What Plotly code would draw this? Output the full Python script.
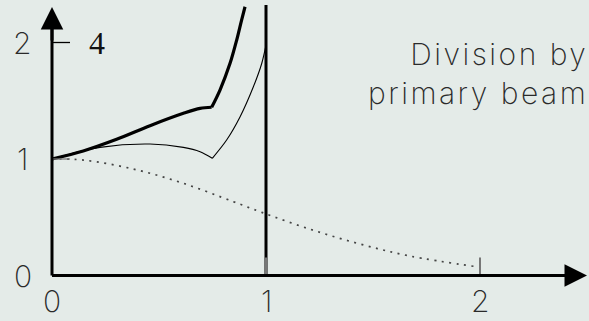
import plotly.graph_objects as go

# Sample points along each response curve (x, y)
thick_x = [0.0, 0.146, 0.302, 0.458, 0.614, 0.692, 0.746, 0.785, 0.832, 0.863, 0.886, 0.902]
thick_y = [1.0, 1.069, 1.169, 1.286, 1.392, 1.435, 1.444, 1.592, 1.821, 2.021, 2.193, 2.307]
thick_cusp = 6

thin_x = [0.0, 0.224, 0.458, 0.614, 0.692, 0.749, 0.816, 0.879, 0.941, 0.980, 0.9986]
thin_y = [1.0, 1.100, 1.129, 1.100, 1.063, 1.006, 1.163, 1.363, 1.620, 1.820, 1.964]
thin_cusp = 5

beam_x = [0.0, 0.146, 0.38, 0.614, 0.847, 0.98, 1.206, 1.44, 1.673, 1.985]
beam_y = [1.0, 0.991, 0.914, 0.791, 0.634, 0.542, 0.397, 0.270, 0.167, 0.075]

edge_x = 1.0
edge_top = 2.322

x_ticks = [0, 1, 2]
y_ticks = [0, 1, 2]
y_extra_label = "4"
caption_lines = ["Division by", "primary beam"]

BG = "#e4ebe8"
LABEL_FONT = dict(family="Inter", size=30, color="#2a2a2a", weight=200)

fig = go.Figure()

def add_curve(xs, ys, split, width):
    for seg in (slice(0, split + 1), slice(split, None)):
        fig.add_trace(go.Scatter(
            x=xs[seg], y=ys[seg], mode="lines",
            line=dict(color="black", width=width, shape="spline", smoothing=0.9),
            hoverinfo="skip", showlegend=False,
        ))

add_curve(thick_x, thick_y, thick_cusp, 3.2)
add_curve(thin_x, thin_y, thin_cusp, 1.1)

fig.add_trace(go.Scatter(
    x=beam_x, y=beam_y, mode="lines",
    line=dict(color="#444444", width=1.7, shape="spline", dash="2px,5.5px"),
    hoverinfo="skip", showlegend=False,
))

# vertical edge at x = 1
fig.add_trace(go.Scatter(
    x=[edge_x, edge_x], y=[0, edge_top], mode="lines",
    line=dict(color="black", width=3), hoverinfo="skip", showlegend=False,
))

x_tip, y_tip = 2.5, 2.305

shapes = []
# tick marks
for t in x_ticks[1:]:
    shapes.append(dict(type="line", x0=t, x1=t, y0=0, y1=0.155,
                       line=dict(color="#777777", width=2)))
for t in y_ticks[1:]:
    shapes.append(dict(type="line", x0=0, x1=0.084, y0=t, y1=t,
                       line=dict(color="black" if t == 2 else "#777777", width=1.3)))
# axes
shapes.append(dict(type="line", x0=0, x1=x_tip - 0.03, y0=0, y1=0,
                   line=dict(color="black", width=3)))
shapes.append(dict(type="line", x0=0, x1=0, y0=0, y1=y_tip - 0.05,
                   line=dict(color="black", width=3)))

annotations = []
# arrowheads
annotations.append(dict(x=x_tip, y=0, ax=x_tip - 0.2, ay=0, xref="x", yref="y",
                        axref="x", ayref="y", showarrow=True, arrowhead=2,
                        arrowsize=1.5, arrowwidth=3, arrowcolor="black", text=""))
annotations.append(dict(x=0, y=y_tip, ax=0, ay=y_tip - 0.3, xref="x", yref="y",
                        axref="x", ayref="y", showarrow=True, arrowhead=2,
                        arrowsize=1.5, arrowwidth=3, arrowcolor="black", text=""))

for t in x_ticks:
    annotations.append(dict(x=t, y=-0.215, text=str(t), showarrow=False,
                            xref="x", yref="y", font=LABEL_FONT))
for t in y_ticks:
    annotations.append(dict(x=-0.137, y=t, text=str(t), showarrow=False,
                            xref="x", yref="y", font=LABEL_FONT))

annotations.append(dict(x=0.21, y=2, text=y_extra_label, showarrow=False,
                        xref="x", yref="y",
                        font=dict(family="Liberation Serif", size=32, color="#111111")))

caption = "<br>".join(
    f'<span style="letter-spacing:2.5px">{line}</span>' for line in caption_lines)
annotations.append(dict(x=1, y=1.73, text=caption, showarrow=False,
                        xref="paper", yref="y", xanchor="right", align="right",
                        xshift=1, font=LABEL_FONT))

fig.update_layout(
    width=589, height=321,
    margin=dict(l=0, r=0, t=0, b=0),
    paper_bgcolor=BG, plot_bgcolor=BG,
    xaxis=dict(range=[-52 / 214, 537 / 214], visible=False, fixedrange=True),
    yaxis=dict(range=[-45.5 / 116.5, 275.5 / 116.5], visible=False, fixedrange=True),
    shapes=shapes, annotations=annotations,
)

fig.write_html("out.html")
